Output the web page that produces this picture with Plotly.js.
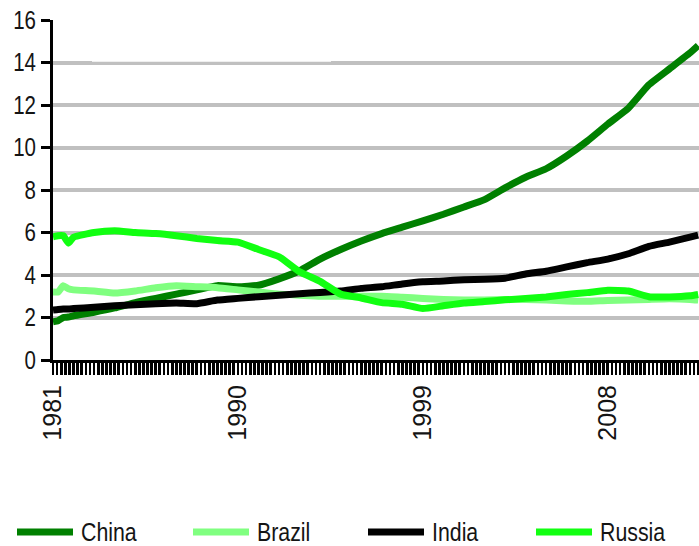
<!DOCTYPE html>
<html>
<head>
<meta charset="utf-8">
<script src="https://cdn.plot.ly/plotly-3.0.1.min.js"></script>
<style>
  html, body { margin: 0; padding: 0; background: #ffffff; }
  #chart { width: 699px; height: 546px; }
</style>
</head>
<body>
<div id="chart"></div>
<script>
// Sample dates (decimal years)
const years = [1981, 1981.25, 1981.5, 1981.75, 1982, 1983, 1984, 1985, 1986, 1987, 1988, 1989,
  1990, 1991, 1992, 1993, 1994, 1995, 1996, 1997, 1998, 1999, 2000, 2001, 2002, 2003,
  2004, 2005, 2006, 2007, 2008, 2009, 2010, 2011, 2012, 2012.4];

const china = [1.80, 1.85, 2.00, 2.02, 2.08, 2.25, 2.45, 2.70, 2.90, 3.10, 3.30, 3.50,
  3.45, 3.52, 3.82, 4.20, 4.75, 5.20, 5.60, 5.95, 6.25, 6.55, 6.86, 7.20, 7.55, 8.10,
  8.60, 9.00, 9.60, 10.30, 11.10, 11.85, 12.95, 13.70, 14.45, 14.80];

const brazil = [3.20, 3.20, 3.50, 3.35, 3.30, 3.25, 3.15, 3.25, 3.40, 3.50, 3.45, 3.40,
  3.30, 3.20, 3.10, 3.05, 3.00, 3.00, 3.00, 3.00, 2.95, 2.90, 2.85, 2.82, 2.82, 2.85,
  2.85, 2.82, 2.78, 2.76, 2.80, 2.82, 2.85, 2.88, 2.85, 2.82];

const india = [2.35, 2.38, 2.40, 2.40, 2.42, 2.48, 2.55, 2.60, 2.65, 2.68, 2.65, 2.82,
  2.90, 2.98, 3.05, 3.12, 3.18, 3.25, 3.37, 3.45, 3.58, 3.68, 3.72, 3.78, 3.80, 3.85,
  4.05, 4.18, 4.38, 4.58, 4.75, 5.00, 5.35, 5.55, 5.78, 5.88];

const russia = [5.80, 5.85, 5.85, 5.50, 5.78, 6.00, 6.08, 6.00, 5.95, 5.85, 5.72, 5.62,
  5.55, 5.20, 4.86, 4.15, 3.70, 3.10, 2.92, 2.70, 2.62, 2.42, 2.55, 2.68, 2.75, 2.83,
  2.90, 2.97, 3.08, 3.17, 3.28, 3.25, 2.98, 2.97, 3.02, 3.08];

const seriesNames = ['China', 'Brazil', 'India', 'Russia'];
const seriesValues = [china, brazil, india, russia];
const seriesColors = ['#008000', '#80ff80', '#000000', '#11ff11'];

const labelledYears = [1981, 1990, 1999, 2008];

const fontFamily = '"Liberation Sans", Arial, sans-serif';

// Date axis: a tick every fifth of a year, labelled only at the marked years
const xRange = [1981, 2012.44];
const tickStep = 0.2;
const xTickVals = [];
const xTickText = [];
for (let k = 0; xRange[0] + k * tickStep <= xRange[1] + 1e-9; k++) {
  const v = Math.round((xRange[0] + k * tickStep) * 100) / 100;
  xTickVals.push(v);
  xTickText.push(labelledYears.includes(v) ? String(v) : '');
}

const traces = seriesNames.map((name, i) => ({
  type: 'scatter',
  mode: 'lines',
  name: name,
  x: years,
  y: seriesValues[i],
  line: { color: seriesColors[i], width: 7, shape: 'spline', smoothing: 0.4 },
  showlegend: false,
  hoverinfo: 'x+y+name'
}));

// Plot area geometry in pixels, used to place the legend row below the axis
const plotLeft = 53, plotWidth = 646, plotTop = 20, plotHeight = 340;
const px2x = (px) => (px - plotLeft) / plotWidth;
const px2y = (py) => (plotTop + plotHeight - py) / plotHeight;

const legendLeft = [17, 193, 368, 536];
const legendRowY = 532;
const shapes = [];
const annotations = [];
seriesNames.forEach((name, i) => {
  shapes.push({
    type: 'line', xref: 'paper', yref: 'paper',
    x0: px2x(legendLeft[i]), x1: px2x(legendLeft[i] + 56),
    y0: px2y(legendRowY), y1: px2y(legendRowY),
    line: { color: seriesColors[i], width: 7 }
  });
  annotations.push({
    xref: 'paper', yref: 'paper',
    x: px2x(legendLeft[i] + 62), y: px2y(legendRowY),
    xanchor: 'left', yanchor: 'middle',
    text: name, showarrow: false,
    font: { family: fontFamily, size: 26, color: '#141414' }
  });
});

// white panel across the upper gridline
shapes.push({
  type: 'rect', xref: 'paper', yref: 'paper', layer: 'above',
  x0: px2x(92), x1: px2x(331), y0: px2y(61.7), y1: px2y(50),
  fillcolor: '#ffffff', line: { width: 0 }
});

const layout = {
  width: 699,
  height: 546,
  margin: { l: plotLeft, r: 0, t: plotTop, b: 546 - plotTop - plotHeight, pad: 0 },
  paper_bgcolor: '#ffffff',
  plot_bgcolor: '#ffffff',
  showlegend: false,
  xaxis: {
    range: xRange,
    showgrid: false,
    zeroline: false,
    showline: true,
    linecolor: '#000000',
    linewidth: 3,
    tickmode: 'array',
    tickvals: xTickVals,
    ticktext: xTickText,
    ticks: 'outside',
    ticklen: 12,
    tickwidth: 2.7,
    tickcolor: '#000000',
    tickangle: -90,
    tickfont: { family: fontFamily, size: 25, color: '#141414' }
  },
  yaxis: {
    range: [0, 16],
    tickmode: 'linear',
    tick0: 0,
    dtick: 2,
    showgrid: true,
    gridcolor: '#c0c0c0',
    gridwidth: 4,
    zeroline: false,
    showline: true,
    linecolor: '#000000',
    linewidth: 3,
    ticks: 'outside',
    ticklen: 9,
    tickwidth: 3,
    tickcolor: '#000000',
    tickfont: { family: fontFamily, size: 25, color: '#141414' }
  },
  shapes: shapes,
  annotations: annotations
};

// Narrow the horizontal text (tick numbers and legend names), keeping one edge fixed
function condense(el, factor, keepRight) {
  const before = el.getBBox();
  el.setAttribute('textLength', (el.getComputedTextLength() * factor).toFixed(2));
  el.setAttribute('lengthAdjust', 'spacingAndGlyphs');
  const after = el.getBBox();
  const shift = keepRight ? (before.x + before.width) - (after.x + after.width) : before.x - after.x;
  const x = parseFloat(el.getAttribute('x') || '0');
  el.setAttribute('x', (x + shift).toFixed(2));
}

Plotly.newPlot('chart', traces, layout, { staticPlot: true, displayModeBar: false }).then((gd) => {
  gd.querySelectorAll('.ytick text').forEach((t) => condense(t, 0.82, true));
  gd.querySelectorAll('.annotation-text').forEach((t) => condense(t, 0.82, false));
});
</script>
</body>
</html>
